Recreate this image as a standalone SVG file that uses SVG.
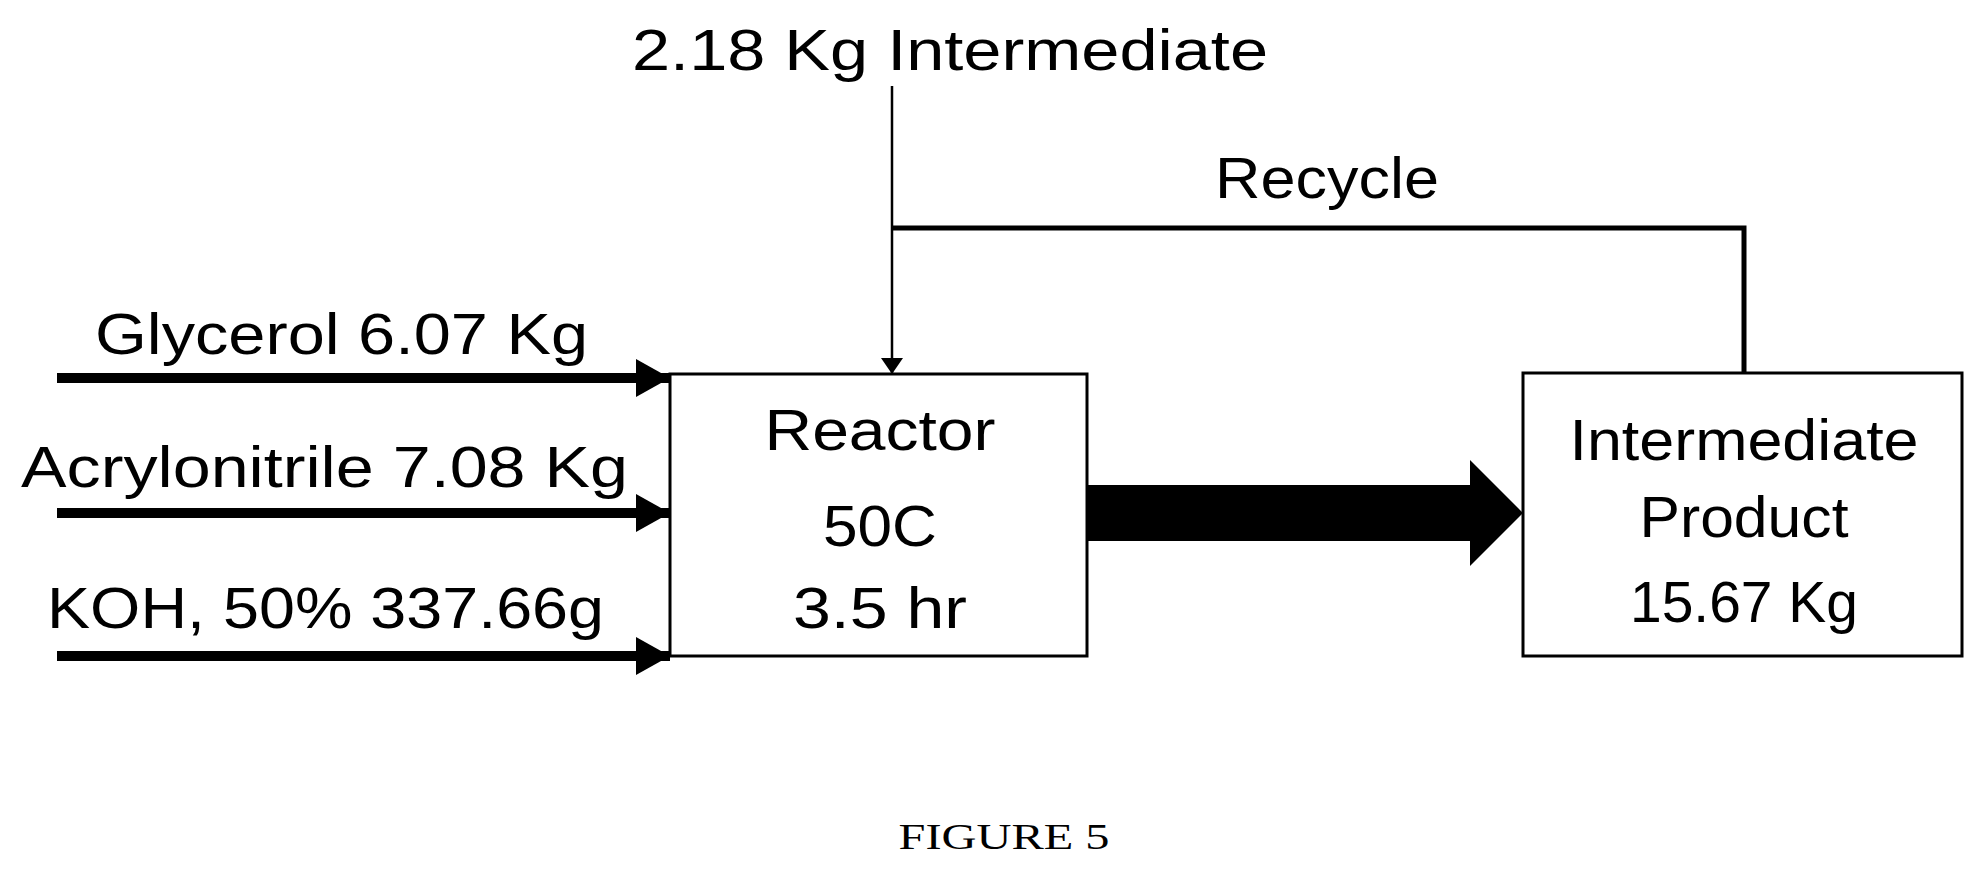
<svg xmlns="http://www.w3.org/2000/svg" width="1982" height="874" viewBox="0 0 1982 874">
<style>
text{font-family:"Liberation Sans",Arial,sans-serif;font-size:57px;fill:#000}
.c{text-anchor:middle}
.box{fill:#fff;stroke:#000;stroke-width:3}
</style>
<defs>
<marker id="ah" markerUnits="userSpaceOnUse" markerWidth="34" markerHeight="38" refX="34" refY="19" orient="auto"><path d="M0,0 L34,19 L0,38 Z" fill="#000"/></marker>
<marker id="ah2" markerUnits="userSpaceOnUse" markerWidth="16" markerHeight="22" refX="16" refY="11" orient="auto"><path d="M0,0 L16,11 L0,22 Z" fill="#000"/></marker>
</defs>
<rect width="1982" height="874" fill="#fff"/>
<g id="connectors" stroke="#000" fill="none">
<line x1="57" y1="378" x2="670" y2="378" stroke-width="10" marker-end="url(#ah)"/>
<line x1="57" y1="513" x2="670" y2="513" stroke-width="10" marker-end="url(#ah)"/>
<line x1="57" y1="656" x2="670" y2="656" stroke-width="10" marker-end="url(#ah)"/>
<line x1="892" y1="86" x2="892" y2="374" stroke-width="2.5" marker-end="url(#ah2)"/>
<polyline points="892,228 1744,228 1744,373" stroke-width="5"/>
<path d="M1087,485 L1470,485 L1470,460 L1523,513 L1470,566 L1470,541 L1087,541 Z" fill="#000" stroke="none"/>
</g>
<g id="feed-top"><text x="950" y="70" class="c" textLength="636" lengthAdjust="spacingAndGlyphs">2.18 Kg Intermediate</text></g>
<g id="recycle-label"><text x="1327" y="198" class="c" textLength="224" lengthAdjust="spacingAndGlyphs">Recycle</text></g>
<g id="glycerol"><text x="95" y="354" textLength="493" lengthAdjust="spacingAndGlyphs">Glycerol 6.07 Kg</text></g>
<g id="acrylonitrile"><text x="21" y="487" textLength="607" lengthAdjust="spacingAndGlyphs">Acrylonitrile 7.08 Kg</text></g>
<g id="koh"><text x="47" y="628" textLength="557" lengthAdjust="spacingAndGlyphs">KOH, 50% 337.66g</text></g>
<g id="reactor">
<rect class="box" x="670" y="374" width="417" height="282"/>
<text x="880" y="450" class="c" textLength="231" lengthAdjust="spacingAndGlyphs">Reactor</text>
<text x="880" y="546" class="c" textLength="114" lengthAdjust="spacingAndGlyphs">50C</text>
<text x="880" y="628" class="c" textLength="174" lengthAdjust="spacingAndGlyphs">3.5 hr</text>
</g>
<g id="intermediate-product">
<rect class="box" x="1523" y="373" width="439" height="283"/>
<text x="1744" y="460" class="c" textLength="349" lengthAdjust="spacingAndGlyphs">Intermediate</text>
<text x="1744" y="537" class="c" textLength="209" lengthAdjust="spacingAndGlyphs">Product</text>
<text x="1744" y="622" class="c" textLength="228" lengthAdjust="spacingAndGlyphs">15.67 Kg</text>
</g>
<g id="caption"><text x="1004" y="849" class="c" style="font-family:'Liberation Serif','Times New Roman',serif;font-size:36px" textLength="211" lengthAdjust="spacingAndGlyphs">FIGURE 5</text></g>
</svg>
